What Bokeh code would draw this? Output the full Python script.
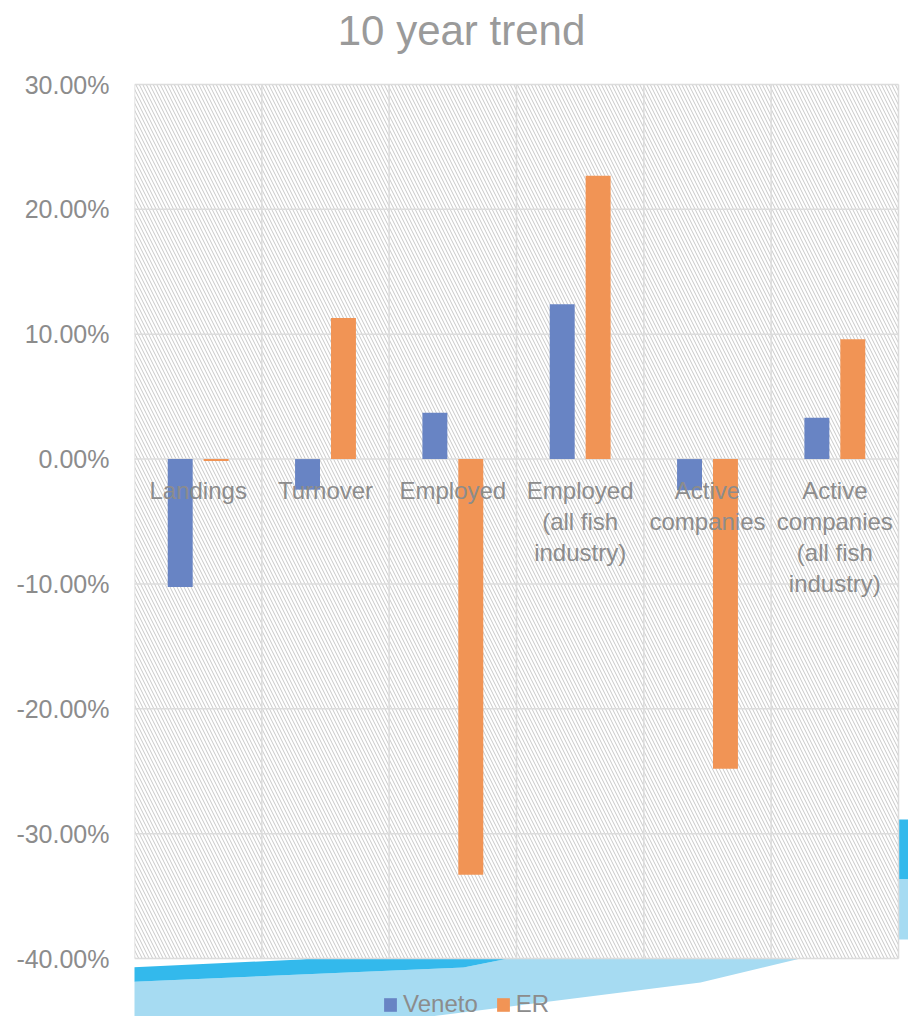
import numpy as np
from bokeh.plotting import figure
from bokeh.models import (Range1d, FixedTicker, Legend, LegendItem,
                          Label, ColumnDataSource)
from bokeh.embed import file_html
from bokeh.resources import INLINE
from bokeh.core.properties import value

# ---------------- data ----------------
categories = ["Landings", "Turnover", "Employed", "Employed (all fish industry)",
              "Active companies", "Active companies (all fish industry)"]
category_labels = ["Landings", "Turnover", "Employed", "Employed\n(all fish\nindustry)",
                   "Active\ncompanies", "Active\ncompanies\n(all fish\nindustry)"]
veneto = [-10.25, -2.45, 3.7, 12.4, -2.5, 3.3]      # percent
er = [-0.15, 11.3, -33.3, 22.7, -24.8, 9.6]          # percent
y_ticks = [-40, -30, -20, -10, 0, 10, 20, 30]
y_tick_labels = {t: f"{t:.2f}%" for t in y_ticks}
title_text = "10 year trend"

# ---------------- layout constants ----------------
W, H = 908, 1016
FL, FR, FT, FB = 134, 898, 84, 958   # chart-area edges in page pixels
N = len(categories)
YMIN, YMAX = -40, 30
px_per_x = (FR - FL) / N
px_per_y = (FB - FT) / (YMAX - YMIN)
GRAY = "#8c8c8c"
GRID = "#dcdcdc"
FONT = "Liberation Sans"
BLUE = "#6884c4"
ORANGE = "#f19455"
SW_DARK = "#33b9ec"
SW_LIGHT = "#a6dbf2"

# the frame reaches the top, right and bottom page edges so title and
# slide decoration can be drawn where the slide has them
p = figure(width=W, height=H, output_backend="svg", toolbar_location=None,
           x_range=Range1d(0, N + (W - FR) / px_per_x),
           y_range=Range1d(YMIN - (H - FB) / px_per_y, YMAX + FT / px_per_y),
           min_border_left=FL, min_border_right=0,
           min_border_top=0, min_border_bottom=0,
           background_fill_color="white", border_fill_color="white",
           outline_line_color=None)

# title
p.add_layout(Label(x=461 - FL, y=H - 30, x_units="screen", y_units="screen",
                   text=title_text, text_align="center", text_baseline="middle",
                   text_font=FONT, text_font_size="42px", text_color="#9a9a9a"))

# decorative slide swoosh outside the chart area (page pixel coordinates)
dark_below_x = [0, 300, 313, 508, 463, 0]
dark_below_y = [973, 959, 958, 958, 967, 987]
light_below_x = [0, 463, 508, 800, 700, 430, 0]
light_below_y = [987, 967, 958, 958, 982, 1016, 1016]
right_strip_x = [898, 908]
dark_right_y = [819, 879]
light_right_y = [879, 939]

def to_data_x(xs):
    return [(x - FL) / px_per_x for x in xs]

def to_data_y(ys):
    return [YMAX - (y - FT) / px_per_y for y in ys]

for xs, ys, c in [(light_below_x, light_below_y, SW_LIGHT),
                  (dark_below_x, dark_below_y, SW_DARK)]:
    p.patch(x=to_data_x(xs), y=to_data_y(ys), fill_color=c, line_color=None)

sx0, sx1 = to_data_x(right_strip_x)
for ys, c in [(dark_right_y, SW_DARK), (light_right_y, SW_LIGHT)]:
    top, bottom = to_data_y(ys)
    p.quad(left=[sx0], right=[sx1], top=[top], bottom=[bottom],
           fill_color=c, line_color=None)

# hatch background of chart area
p.quad(left=[0], right=[N], bottom=[YMIN], top=[YMAX],
       fill_color="white", fill_alpha=1, line_color=None,
       hatch_pattern="\\", hatch_color="#c8c8c8",
       hatch_scale=7, hatch_weight=1)

# axes
p.xaxis.visible = False
ya = p.yaxis[0]
ya.ticker = FixedTicker(ticks=y_ticks)
ya.major_label_overrides = y_tick_labels
ya.axis_line_color = None
ya.major_tick_line_color = None
ya.minor_tick_line_color = None
ya.major_label_standoff = 19
ya.major_label_text_font = FONT
ya.major_label_text_font_size = "25px"
ya.major_label_text_color = GRAY

# grid lines limited to chart area
p.xgrid.visible = False
p.ygrid.visible = False
p.segment(x0=[0] * len(y_ticks), x1=[N] * len(y_ticks), y0=y_ticks, y1=y_ticks,
          line_color=GRID, line_width=1.5)
vx = list(range(N + 1))
p.segment(x0=vx, x1=vx, y0=[YMIN] * len(vx), y1=[YMAX] * len(vx),
          line_color=GRID, line_width=1.5)

# bars
xc = np.arange(N) + 0.5
cds = ColumnDataSource(dict(xv=xc - 0.141, xe=xc + 0.141, xc=xc,
                            veneto=veneto, er=er, lab=category_labels))
r1 = p.vbar(x="xv", top="veneto", bottom=0, width=0.196, source=cds,
            fill_color=BLUE, line_color=None)
r2 = p.vbar(x="xe", top="er", bottom=0, width=0.196, source=cds,
            fill_color=ORANGE, line_color=None)

# category labels just under the zero line
p.text(x="xc", y=0, text="lab", source=cds, text_align="center",
       text_baseline="top", y_offset=18, text_font=value(FONT),
       text_font_size="24px", text_color=GRAY, text_line_height=1.15)

# legend at the bottom
legend = Legend(items=[LegendItem(label="Veneto", renderers=[r1]),
                       LegendItem(label="ER", renderers=[r2])],
                orientation="horizontal", location=(248, -2),
                glyph_width=16, glyph_height=17, label_standoff=5, spacing=17,
                padding=0, margin=0, border_line_color=None,
                background_fill_alpha=0, label_text_font=FONT,
                label_text_font_size="24px", label_text_color=GRAY)
p.add_layout(legend)

open("out.html", "w").write(file_html(p, INLINE))
